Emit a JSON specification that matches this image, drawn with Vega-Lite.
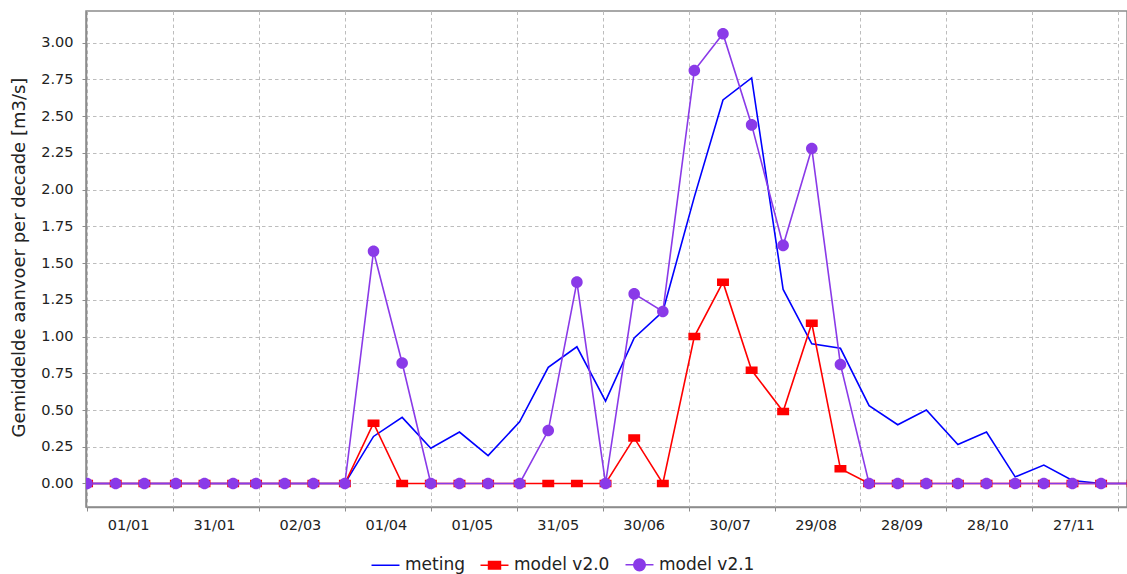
{
  "$schema": "https://vega.github.io/schema/vega-lite/v6.json",
  "width": 1041,
  "height": 496,
  "autosize": {"type": "none"},
  "padding": {"left": 86, "top": 11, "right": 0, "bottom": 67},
  "background": "white",
  "config": {
    "font": "DejaVu Sans",
    "view": {"stroke": "#8c8c8c", "strokeWidth": 1.5},
    "axis": {
      "grid": true,
      "gridColor": "#bdbdbd",
      "gridDash": [3.5, 3],
      "gridWidth": 1,
      "domainColor": "#8c8c8c",
      "domainWidth": 1.5,
      "tickColor": "#8c8c8c",
      "tickSize": 4,
      "labelFont": "DejaVu Sans",
      "labelFontSize": 14.5,
      "labelColor": "#222222"
    },
    "legend": {
      "title": null,
      "orient": "none",
      "legendX": 289,
      "legendY": 543,
      "direction": "horizontal",
      "labelFont": "DejaVu Sans",
      "labelFontSize": 17,
      "labelColor": "#222222",
      "symbolSize": 348,
      "symbolStrokeWidth": 1.5,
      "labelOffset": 9,
      "columnPadding": 12
    }
  },
  "data": {
    "values": [
      {"date": "2010-01-01", "series": "meting", "value": 0},
      {"date": "2010-01-11", "series": "meting", "value": 0},
      {"date": "2010-01-21", "series": "meting", "value": 0},
      {"date": "2010-02-01", "series": "meting", "value": 0},
      {"date": "2010-02-11", "series": "meting", "value": 0},
      {"date": "2010-02-21", "series": "meting", "value": 0},
      {"date": "2010-03-01", "series": "meting", "value": 0},
      {"date": "2010-03-11", "series": "meting", "value": 0},
      {"date": "2010-03-21", "series": "meting", "value": 0},
      {"date": "2010-04-01", "series": "meting", "value": 0},
      {"date": "2010-04-11", "series": "meting", "value": 0.32},
      {"date": "2010-04-21", "series": "meting", "value": 0.45},
      {"date": "2010-05-01", "series": "meting", "value": 0.24},
      {"date": "2010-05-11", "series": "meting", "value": 0.35},
      {"date": "2010-05-21", "series": "meting", "value": 0.19},
      {"date": "2010-06-01", "series": "meting", "value": 0.42},
      {"date": "2010-06-11", "series": "meting", "value": 0.79},
      {"date": "2010-06-21", "series": "meting", "value": 0.93},
      {"date": "2010-07-01", "series": "meting", "value": 0.56},
      {"date": "2010-07-11", "series": "meting", "value": 0.99},
      {"date": "2010-07-21", "series": "meting", "value": 1.17},
      {"date": "2010-08-01", "series": "meting", "value": 1.95},
      {"date": "2010-08-11", "series": "meting", "value": 2.61},
      {"date": "2010-08-21", "series": "meting", "value": 2.76},
      {"date": "2010-09-01", "series": "meting", "value": 1.32},
      {"date": "2010-09-11", "series": "meting", "value": 0.95},
      {"date": "2010-09-21", "series": "meting", "value": 0.92},
      {"date": "2010-10-01", "series": "meting", "value": 0.53},
      {"date": "2010-10-11", "series": "meting", "value": 0.40},
      {"date": "2010-10-21", "series": "meting", "value": 0.50},
      {"date": "2010-11-01", "series": "meting", "value": 0.265},
      {"date": "2010-11-11", "series": "meting", "value": 0.35},
      {"date": "2010-11-21", "series": "meting", "value": 0.045},
      {"date": "2010-12-01", "series": "meting", "value": 0.125},
      {"date": "2010-12-11", "series": "meting", "value": 0.02},
      {"date": "2010-12-21", "series": "meting", "value": 0},
      {"date": "2011-01-01", "series": "meting", "value": 0},
      {"date": "2010-01-01", "series": "model v2.0", "value": 0},
      {"date": "2010-01-11", "series": "model v2.0", "value": 0},
      {"date": "2010-01-21", "series": "model v2.0", "value": 0},
      {"date": "2010-02-01", "series": "model v2.0", "value": 0},
      {"date": "2010-02-11", "series": "model v2.0", "value": 0},
      {"date": "2010-02-21", "series": "model v2.0", "value": 0},
      {"date": "2010-03-01", "series": "model v2.0", "value": 0},
      {"date": "2010-03-11", "series": "model v2.0", "value": 0},
      {"date": "2010-03-21", "series": "model v2.0", "value": 0},
      {"date": "2010-04-01", "series": "model v2.0", "value": 0},
      {"date": "2010-04-11", "series": "model v2.0", "value": 0.41},
      {"date": "2010-04-21", "series": "model v2.0", "value": 0},
      {"date": "2010-05-01", "series": "model v2.0", "value": 0},
      {"date": "2010-05-11", "series": "model v2.0", "value": 0},
      {"date": "2010-05-21", "series": "model v2.0", "value": 0},
      {"date": "2010-06-01", "series": "model v2.0", "value": 0},
      {"date": "2010-06-11", "series": "model v2.0", "value": 0},
      {"date": "2010-06-21", "series": "model v2.0", "value": 0},
      {"date": "2010-07-01", "series": "model v2.0", "value": 0},
      {"date": "2010-07-11", "series": "model v2.0", "value": 0.31},
      {"date": "2010-07-21", "series": "model v2.0", "value": 0},
      {"date": "2010-08-01", "series": "model v2.0", "value": 1.00},
      {"date": "2010-08-11", "series": "model v2.0", "value": 1.37},
      {"date": "2010-08-21", "series": "model v2.0", "value": 0.77},
      {"date": "2010-09-01", "series": "model v2.0", "value": 0.49},
      {"date": "2010-09-11", "series": "model v2.0", "value": 1.09},
      {"date": "2010-09-21", "series": "model v2.0", "value": 0.10},
      {"date": "2010-10-01", "series": "model v2.0", "value": 0},
      {"date": "2010-10-11", "series": "model v2.0", "value": 0},
      {"date": "2010-10-21", "series": "model v2.0", "value": 0},
      {"date": "2010-11-01", "series": "model v2.0", "value": 0},
      {"date": "2010-11-11", "series": "model v2.0", "value": 0},
      {"date": "2010-11-21", "series": "model v2.0", "value": 0},
      {"date": "2010-12-01", "series": "model v2.0", "value": 0},
      {"date": "2010-12-11", "series": "model v2.0", "value": 0},
      {"date": "2010-12-21", "series": "model v2.0", "value": 0},
      {"date": "2011-01-01", "series": "model v2.0", "value": 0},
      {"date": "2010-01-01", "series": "model v2.1", "value": 0},
      {"date": "2010-01-11", "series": "model v2.1", "value": 0},
      {"date": "2010-01-21", "series": "model v2.1", "value": 0},
      {"date": "2010-02-01", "series": "model v2.1", "value": 0},
      {"date": "2010-02-11", "series": "model v2.1", "value": 0},
      {"date": "2010-02-21", "series": "model v2.1", "value": 0},
      {"date": "2010-03-01", "series": "model v2.1", "value": 0},
      {"date": "2010-03-11", "series": "model v2.1", "value": 0},
      {"date": "2010-03-21", "series": "model v2.1", "value": 0},
      {"date": "2010-04-01", "series": "model v2.1", "value": 0},
      {"date": "2010-04-11", "series": "model v2.1", "value": 1.58},
      {"date": "2010-04-21", "series": "model v2.1", "value": 0.82},
      {"date": "2010-05-01", "series": "model v2.1", "value": 0},
      {"date": "2010-05-11", "series": "model v2.1", "value": 0},
      {"date": "2010-05-21", "series": "model v2.1", "value": 0},
      {"date": "2010-06-01", "series": "model v2.1", "value": 0},
      {"date": "2010-06-11", "series": "model v2.1", "value": 0.36},
      {"date": "2010-06-21", "series": "model v2.1", "value": 1.37},
      {"date": "2010-07-01", "series": "model v2.1", "value": 0},
      {"date": "2010-07-11", "series": "model v2.1", "value": 1.29},
      {"date": "2010-07-21", "series": "model v2.1", "value": 1.17},
      {"date": "2010-08-01", "series": "model v2.1", "value": 2.81},
      {"date": "2010-08-11", "series": "model v2.1", "value": 3.06},
      {"date": "2010-08-21", "series": "model v2.1", "value": 2.44},
      {"date": "2010-09-01", "series": "model v2.1", "value": 1.62},
      {"date": "2010-09-11", "series": "model v2.1", "value": 2.28},
      {"date": "2010-09-21", "series": "model v2.1", "value": 0.81},
      {"date": "2010-10-01", "series": "model v2.1", "value": 0},
      {"date": "2010-10-11", "series": "model v2.1", "value": 0},
      {"date": "2010-10-21", "series": "model v2.1", "value": 0},
      {"date": "2010-11-01", "series": "model v2.1", "value": 0},
      {"date": "2010-11-11", "series": "model v2.1", "value": 0},
      {"date": "2010-11-21", "series": "model v2.1", "value": 0},
      {"date": "2010-12-01", "series": "model v2.1", "value": 0},
      {"date": "2010-12-11", "series": "model v2.1", "value": 0},
      {"date": "2010-12-21", "series": "model v2.1", "value": 0},
      {"date": "2011-01-01", "series": "model v2.1", "value": 0}
    ]
  },
  "encoding": {
    "x": {
      "field": "date",
      "type": "temporal",
      "title": null,
      "scale": {
        "type": "utc",
        "domain": [
          {"year": 2009, "month": 12, "date": 31, "hours": 15, "utc": true},
          {"year": 2010, "month": 12, "date": 30, "hours": 1, "utc": true}
        ]
      },
      "axis": {
        "values": [
          {"year": 2010, "month": 1, "date": 1, "utc": true},
          {"year": 2010, "month": 1, "date": 31, "utc": true},
          {"year": 2010, "month": 3, "date": 2, "utc": true},
          {"year": 2010, "month": 4, "date": 1, "utc": true},
          {"year": 2010, "month": 5, "date": 1, "utc": true},
          {"year": 2010, "month": 5, "date": 31, "utc": true},
          {"year": 2010, "month": 6, "date": 30, "utc": true},
          {"year": 2010, "month": 7, "date": 30, "utc": true},
          {"year": 2010, "month": 8, "date": 29, "utc": true},
          {"year": 2010, "month": 9, "date": 28, "utc": true},
          {"year": 2010, "month": 10, "date": 28, "utc": true},
          {"year": 2010, "month": 11, "date": 27, "utc": true},
          {"year": 2010, "month": 12, "date": 27, "utc": true}
        ],
        "labelExpr": "utcmonth(datum.value) == 11 ? '' : utcFormat(datum.value, '%d/%m')",
        "labelOffset": 41,
        "labelFlush": false,
        "labelOverlap": false,
        "labelBound": false,
        "labelPadding": 7
      }
    },
    "y": {
      "field": "value",
      "type": "quantitative",
      "scale": {"domain": [-0.16, 3.215], "nice": false, "zero": false},
      "axis": {
        "values": [0, 0.25, 0.5, 0.75, 1, 1.25, 1.5, 1.75, 2, 2.25, 2.5, 2.75, 3],
        "format": ".2f",
        "labelPadding": 9,
        "title": "Gemiddelde aanvoer per decade [m3/s]",
        "titleFont": "DejaVu Sans",
        "titleFontSize": 18,
        "titleFontWeight": "normal",
        "titleColor": "#222222",
        "titleAngle": -90,
        "titleX": -67,
        "titleY": 246,
        "titleAlign": "center",
        "titleBaseline": "middle"
      }
    }
  },
  "layer": [
    {
      "mark": {"type": "line", "strokeWidth": 1.6, "clip": true},
      "encoding": {
        "color": {
          "field": "series",
          "type": "nominal",
          "title": null,
          "scale": {"domain": ["meting", "model v2.0", "model v2.1"], "range": ["#0000ff", "#ff0000", "#8a3ae8"]}
        }
      }
    },
    {
      "transform": [{"filter": "datum.series !== 'meting'"}],
      "mark": {"type": "point", "filled": true, "opacity": 1, "size": 348, "strokeWidth": 0, "clip": true},
      "encoding": {
        "color": {
          "field": "series",
          "type": "nominal",
          "title": null,
          "scale": {"domain": ["meting", "model v2.0", "model v2.1"], "range": ["#0000ff", "#ff0000", "#8a3ae8"]}
        },
        "stroke": {
          "field": "series",
          "type": "nominal",
          "title": null,
          "scale": {"domain": ["meting", "model v2.0", "model v2.1"], "range": ["#0000ff", "#ff0000", "#8a3ae8"]}
        },
        "shape": {
          "field": "series",
          "type": "nominal",
          "title": null,
          "scale": {
            "domain": ["meting", "model v2.0", "model v2.1"],
            "range": [
              "M-1.5,0H1.5",
              "M-1.5,0H1.5M-0.64,-0.4H0.64V0.4H-0.64Z",
              "M-1.5,0H1.5M0.62,0A0.62,0.62,0,1,1,-0.62,0A0.62,0.62,0,1,1,0.62,0Z"
            ]
          }
        }
      }
    }
  ]
}
